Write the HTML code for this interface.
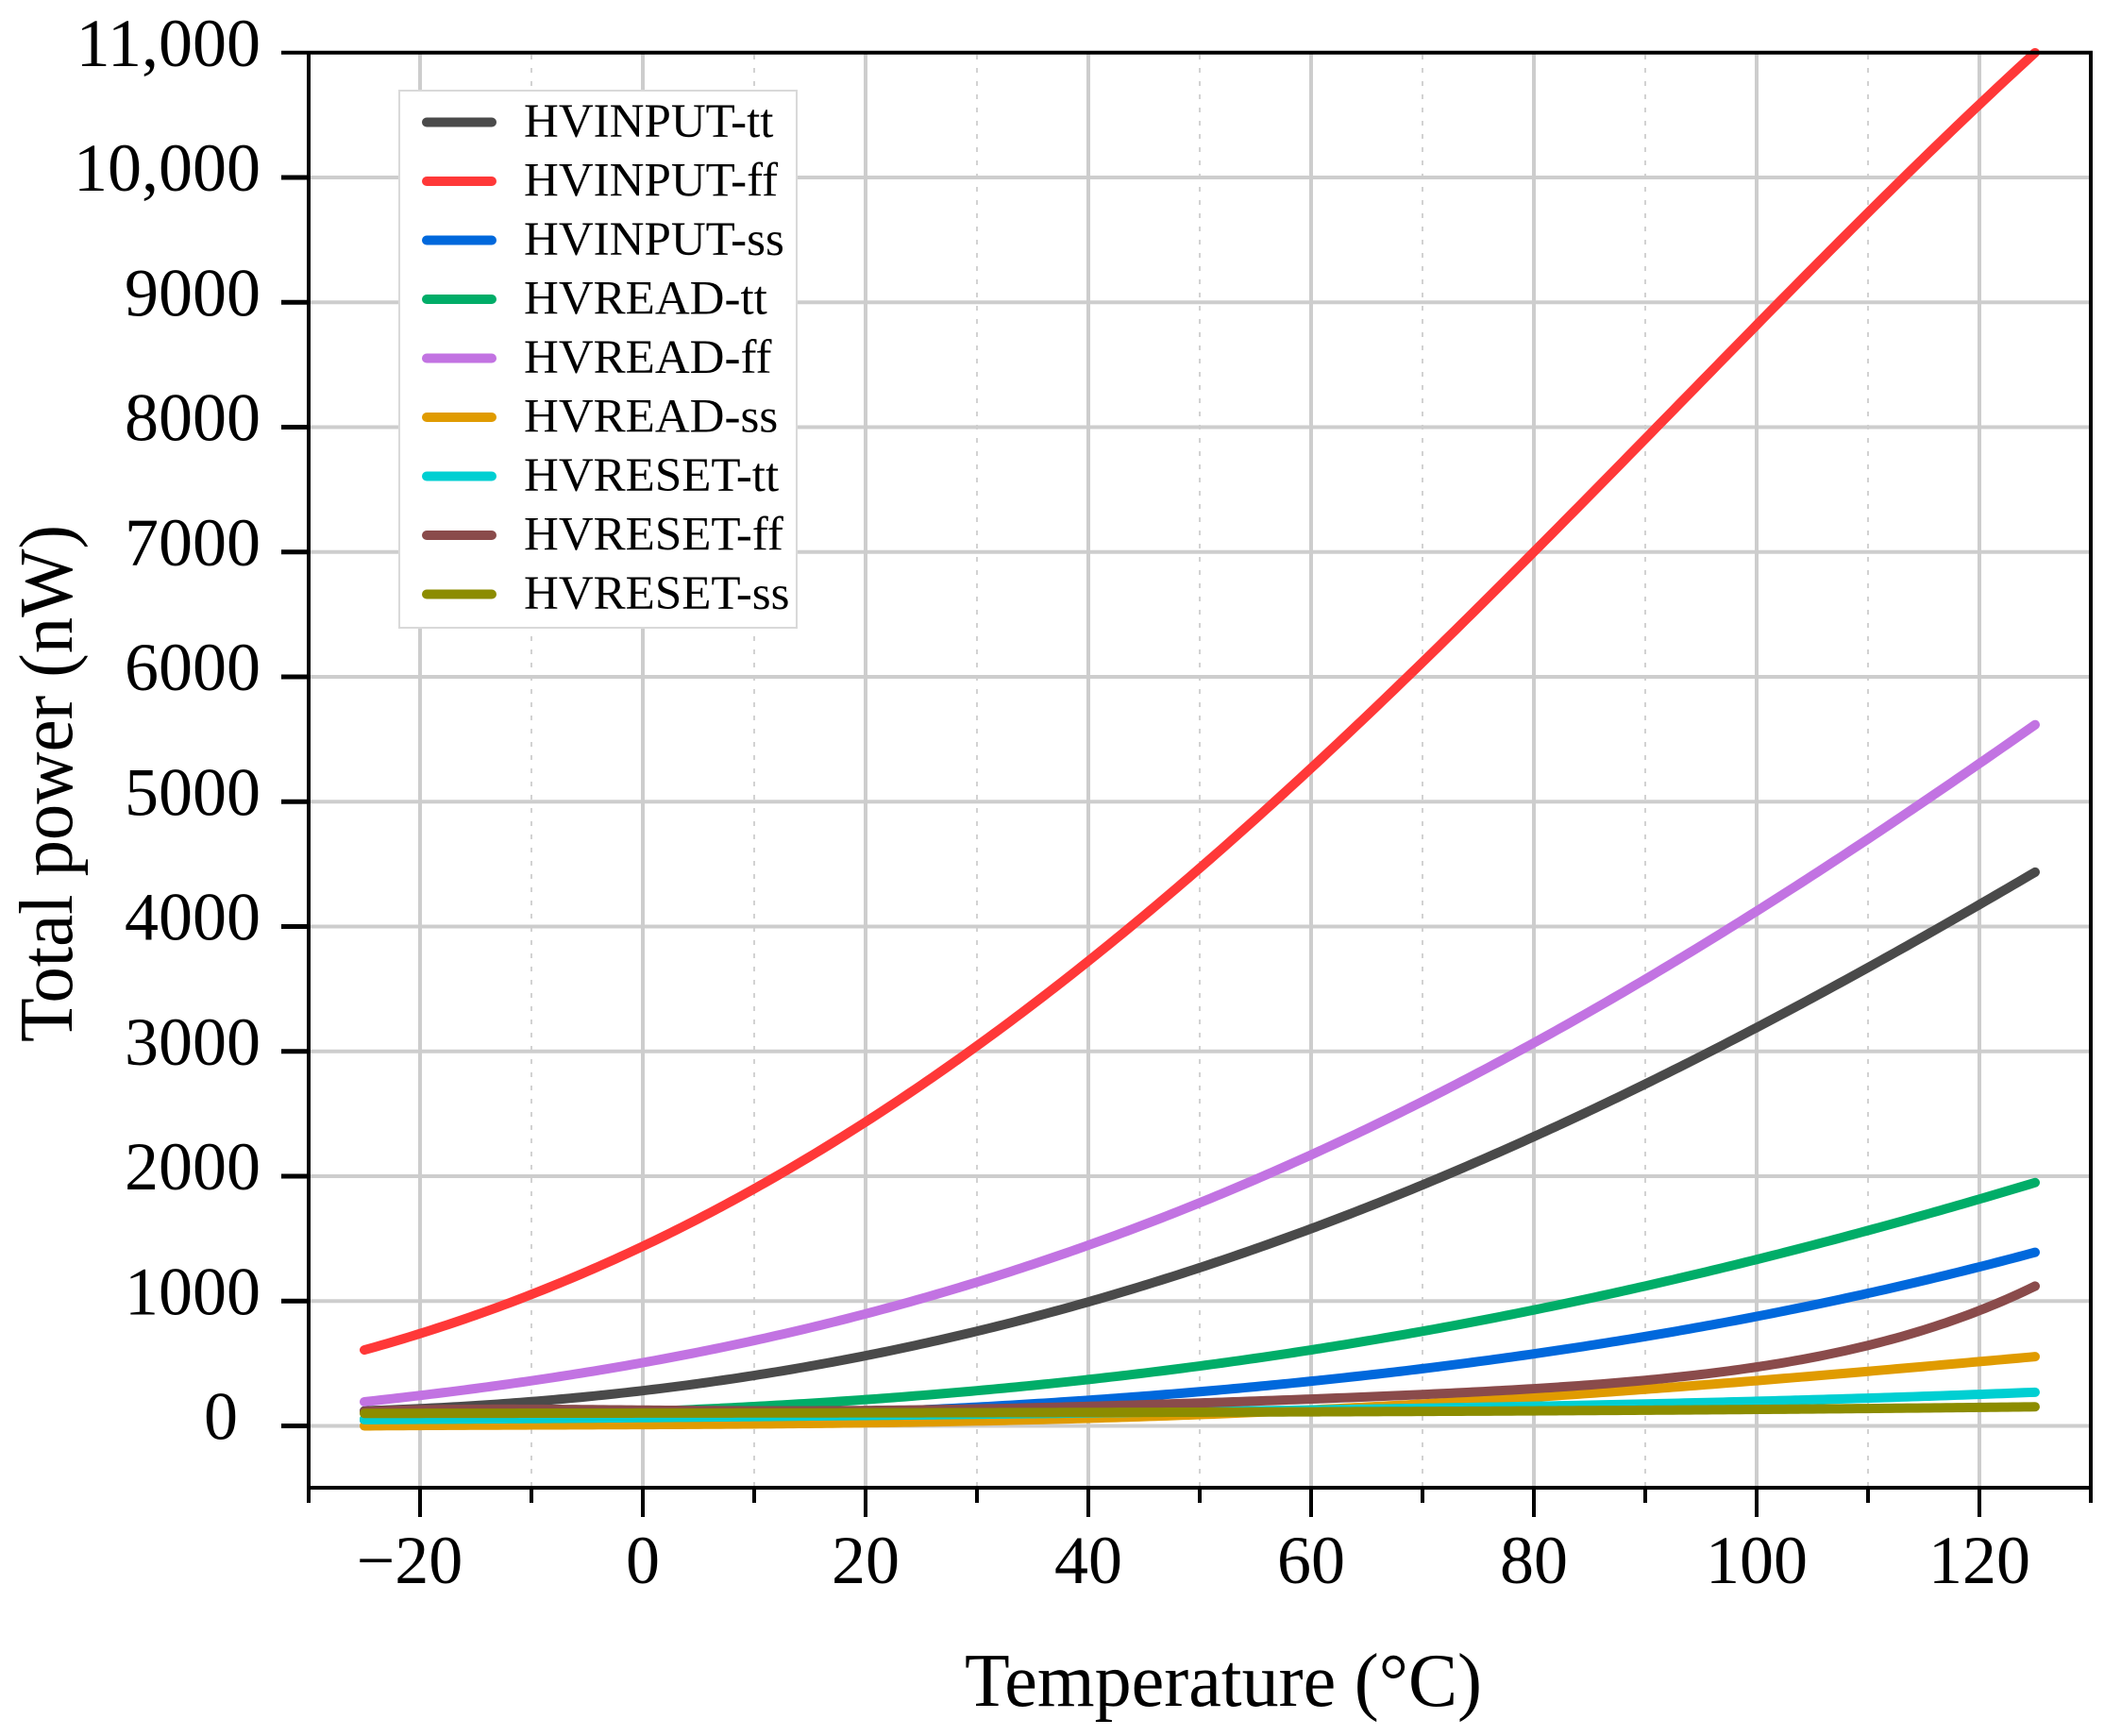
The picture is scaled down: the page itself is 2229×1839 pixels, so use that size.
<!DOCTYPE html>
<html>
<head>
<meta charset="utf-8">
<style>
  html, body { margin: 0; padding: 0; background: #ffffff; }
  svg { display: block; }
  text { font-family: "Liberation Serif", "Times New Roman", serif; fill: #000; }
</style>
</head>
<body>
<svg id="chart" width="2229" height="1839" viewBox="0 0 2229 1839" xmlns="http://www.w3.org/2000/svg">
  <rect x="0" y="0" width="2229" height="1839" fill="#ffffff"/>

  <!-- minor vertical gridlines (dashed) -->
  <g stroke="#d2d2d2" stroke-width="2" stroke-dasharray="5 9">
    <line x1="563" y1="58" x2="563" y2="1574"/>
    <line x1="799" y1="58" x2="799" y2="1574"/>
    <line x1="1035" y1="58" x2="1035" y2="1574"/>
    <line x1="1271" y1="58" x2="1271" y2="1574"/>
    <line x1="1507" y1="58" x2="1507" y2="1574"/>
    <line x1="1743" y1="58" x2="1743" y2="1574"/>
    <line x1="1979" y1="58" x2="1979" y2="1574"/>
  </g>

  <!-- major gridlines -->
  <g stroke="#cdcdcd" stroke-width="4">
    <line x1="445" y1="56" x2="445" y2="1576"/>
    <line x1="681" y1="56" x2="681" y2="1576"/>
    <line x1="917" y1="56" x2="917" y2="1576"/>
    <line x1="1153" y1="56" x2="1153" y2="1576"/>
    <line x1="1389" y1="56" x2="1389" y2="1576"/>
    <line x1="1625" y1="56" x2="1625" y2="1576"/>
    <line x1="1861" y1="56" x2="1861" y2="1576"/>
    <line x1="2097" y1="56" x2="2097" y2="1576"/>
    <line x1="327" y1="1510.5" x2="2215" y2="1510.5"/>
    <line x1="327" y1="1378.25" x2="2215" y2="1378.25"/>
    <line x1="327" y1="1246" x2="2215" y2="1246"/>
    <line x1="327" y1="1113.75" x2="2215" y2="1113.75"/>
    <line x1="327" y1="981.5" x2="2215" y2="981.5"/>
    <line x1="327" y1="849.25" x2="2215" y2="849.25"/>
    <line x1="327" y1="717" x2="2215" y2="717"/>
    <line x1="327" y1="584.75" x2="2215" y2="584.75"/>
    <line x1="327" y1="452.5" x2="2215" y2="452.5"/>
    <line x1="327" y1="320.25" x2="2215" y2="320.25"/>
    <line x1="327" y1="188" x2="2215" y2="188"/>
  </g>

  <!-- series -->
  <g id="series" fill="none" stroke-width="10" stroke-linecap="round" stroke-linejoin="round"></g>

  <!-- legend -->
  <rect x="423" y="96" width="421" height="569" fill="#ffffff" stroke="#d9d9d9" stroke-width="2"/>
  <g stroke-width="10" stroke-linecap="round">
    <line x1="452" y1="129.5" x2="521" y2="129.5" stroke="#4a4a4a"/>
    <line x1="452" y1="192" x2="521" y2="192" stroke="#ff3838"/>
    <line x1="452" y1="254.5" x2="521" y2="254.5" stroke="#0068dc"/>
    <line x1="452" y1="317" x2="521" y2="317" stroke="#00ad68"/>
    <line x1="452" y1="379.5" x2="521" y2="379.5" stroke="#c273e2"/>
    <line x1="452" y1="442" x2="521" y2="442" stroke="#e09b00"/>
    <line x1="452" y1="504.5" x2="521" y2="504.5" stroke="#00cfd2"/>
    <line x1="452" y1="567" x2="521" y2="567" stroke="#8a4b4b"/>
    <line x1="452" y1="629.5" x2="521" y2="629.5" stroke="#8c8c00"/>
  </g>
  <g font-size="51">
    <text x="555" y="145">HVINPUT-tt</text>
    <text x="555" y="207.5">HVINPUT-ff</text>
    <text x="555" y="270">HVINPUT-ss</text>
    <text x="555" y="332.5">HVREAD-tt</text>
    <text x="555" y="395">HVREAD-ff</text>
    <text x="555" y="457.5">HVREAD-ss</text>
    <text x="555" y="520">HVRESET-tt</text>
    <text x="555" y="582.5">HVRESET-ff</text>
    <text x="555" y="645">HVRESET-ss</text>
  </g>

  <!-- axes -->
  <g stroke="#000" stroke-width="4" fill="none">
    <line x1="298" y1="55.75" x2="2217" y2="55.75"/>
    <line x1="327" y1="54" x2="327" y2="1592"/>
    <line x1="2215" y1="54" x2="2215" y2="1592"/>
    <line x1="325" y1="1576" x2="2217" y2="1576"/>
  </g>
  <g stroke="#000" stroke-width="5">
    <line x1="298" y1="1510.5" x2="327" y2="1510.5"/>
    <line x1="298" y1="1378.25" x2="327" y2="1378.25"/>
    <line x1="298" y1="1246" x2="327" y2="1246"/>
    <line x1="298" y1="1113.75" x2="327" y2="1113.75"/>
    <line x1="298" y1="981.5" x2="327" y2="981.5"/>
    <line x1="298" y1="849.25" x2="327" y2="849.25"/>
    <line x1="298" y1="717" x2="327" y2="717"/>
    <line x1="298" y1="584.75" x2="327" y2="584.75"/>
    <line x1="298" y1="452.5" x2="327" y2="452.5"/>
    <line x1="298" y1="320.25" x2="327" y2="320.25"/>
    <line x1="298" y1="188" x2="327" y2="188"/>
  </g>
  <g stroke="#000" stroke-width="4">
    <line x1="445" y1="1576" x2="445" y2="1607"/>
    <line x1="681" y1="1576" x2="681" y2="1607"/>
    <line x1="917" y1="1576" x2="917" y2="1607"/>
    <line x1="1153" y1="1576" x2="1153" y2="1607"/>
    <line x1="1389" y1="1576" x2="1389" y2="1607"/>
    <line x1="1625" y1="1576" x2="1625" y2="1607"/>
    <line x1="1861" y1="1576" x2="1861" y2="1607"/>
    <line x1="2097" y1="1576" x2="2097" y2="1607"/>
    <line x1="563" y1="1576" x2="563" y2="1592"/>
    <line x1="799" y1="1576" x2="799" y2="1592"/>
    <line x1="1035" y1="1576" x2="1035" y2="1592"/>
    <line x1="1271" y1="1576" x2="1271" y2="1592"/>
    <line x1="1507" y1="1576" x2="1507" y2="1592"/>
    <line x1="1743" y1="1576" x2="1743" y2="1592"/>
    <line x1="1979" y1="1576" x2="1979" y2="1592"/>
  </g>

  <!-- y tick labels -->
  <g font-size="72" text-anchor="end">
    <text x="252" y="1524.5">0</text>
    <text x="276" y="1392.25">1000</text>
    <text x="276" y="1260">2000</text>
    <text x="276" y="1127.75">3000</text>
    <text x="276" y="995.5">4000</text>
    <text x="276" y="863.25">5000</text>
    <text x="276" y="731">6000</text>
    <text x="276" y="598.75">7000</text>
    <text x="276" y="466.5">8000</text>
    <text x="276" y="334.25">9000</text>
    <text x="276" y="202">10,000</text>
    <text x="276" y="69.75">11,000</text>
  </g>

  <!-- x tick labels -->
  <g font-size="72" text-anchor="middle">
    <text x="434" y="1677">−20</text>
    <text x="681" y="1677">0</text>
    <text x="917" y="1677">20</text>
    <text x="1153" y="1677">40</text>
    <text x="1389" y="1677">60</text>
    <text x="1625" y="1677">80</text>
    <text x="1861" y="1677">100</text>
    <text x="2097" y="1677">120</text>
  </g>

  <!-- axis titles -->
  <text x="1022" y="1807" font-size="80" textLength="548" lengthAdjust="spacingAndGlyphs">Temperature (°C)</text>
  <text transform="translate(76,830) rotate(-90)" x="-274" y="0" font-size="80" textLength="548" lengthAdjust="spacingAndGlyphs">Total power (nW)</text>
</svg>

<script>
(function(){
  function X(t){return 681 + t*11.8;}
  function Y(v){return 1510.5 - v*0.13225;}
  var series = [
    ["#4a4a4a", 4, [[-25,120],[-20,150],[-10,205],[0,281],[10,394],[20,555],[30,760],[40,999],[50,1270],[60,1580],[70,1928],[80,2330],[90,2730],[100,3178],[110,3670],[120,4202],[125,4435]]],
    ["#ff3838", 4, [[-25,609],[-20,722],[-10,1025],[0,1440],[10,1932],[20,2436],[30,3041],[43.5,4000],[48.2,4325],[57.4,5000],[68.8,6000],[79.7,7000],[90.65,8000],[101.9,9000],[113.8,10000],[125,11000]]],
    ["#0068dc", 4, [[-25,45],[0,60],[20,100],[30,150],[40,210],[50,280],[60,358],[70,455],[80,575],[90,715],[100,875],[110,1065],[120,1280],[125,1390]]],
    ["#00ad68", 4, [[-25,55],[-10,80],[0,105],[10,155],[20,210],[30,286],[40,382],[50,490],[60,608],[70,755],[80,905],[90,1108],[100,1345],[110,1580],[120,1837],[125,1948]]],
    ["#c273e2", 4, [[-25,193],[-20,243],[-10,369],[0,520],[10,684],[20,886],[30,1138],[40,1440],[50,1790],[60,2185],[70,2610],[80,3080],[90,3570],[100,4085],[110,4720],[120,5320],[125,5616]]],
    ["#e09b00", 4, [[-25,0],[0,12],[20,28],[35,45],[50,85],[60,128],[70,178],[80,235],[90,297],[100,362],[110,432],[120,505],[125,555]]],
    ["#00cfd2", 4, [[-25,50],[0,65],[20,85],[40,105],[60,125],[70,140],[80,158],[90,178],[100,200],[110,222],[120,245],[125,270]]],
    ["#8a4b4b", 5, [[-25,115],[0,120],[20,133],[40,158],[60,205],[80,292],[90,375],[100,487],[110,643],[115,750],[120,920],[125,1120]]],
    ["#8c8c00", 3, [[-25,100],[0,103],[40,108],[60,112],[80,120],[100,133],[120,148],[125,153]]]
  ];
  function solve(A,b){
    var n=b.length,i,j,k;
    for(i=0;i<n;i++){
      var p=i;
      for(j=i+1;j<n;j++) if(Math.abs(A[j][i])>Math.abs(A[p][i])) p=j;
      var t=A[i];A[i]=A[p];A[p]=t; t=b[i];b[i]=b[p];b[p]=t;
      for(j=i+1;j<n;j++){
        var f=A[j][i]/A[i][i];
        for(k=i;k<n;k++) A[j][k]-=f*A[i][k];
        b[j]-=f*b[i];
      }
    }
    var x=new Array(n);
    for(i=n-1;i>=0;i--){
      var s=b[i];
      for(k=i+1;k<n;k++) s-=A[i][k]*x[k];
      x[i]=s/A[i][i];
    }
    return x;
  }
  function fit(pts,deg){
    var m=deg+1,A=[],b=[],i,j,k;
    for(i=0;i<m;i++){A.push(new Array(m).fill(0));b.push(0);}
    pts.forEach(function(p,idx){
      var u=(p[0]-50)/75, w=(idx===0||idx===pts.length-1)?25:1;
      var pw=[];for(j=0;j<2*m;j++) pw.push(Math.pow(u,j));
      for(j=0;j<m;j++){ for(k=0;k<m;k++) A[j][k]+=w*pw[j+k]; b[j]+=w*pw[j]*p[1]; }
    });
    var c=solve(A,b);
    return function(t){var u=(t-50)/75,s=0;for(var j=0;j<m;j++) s+=c[j]*Math.pow(u,j);return s;};
  }
  var g=document.getElementById("series");
  var NS="http://www.w3.org/2000/svg";
  series.forEach(function(sr){
    var f=fit(sr[2],sr[1]);
    var d="";
    for(var t=-25;t<=125.0001;t+=0.5){
      d+=(d?" L":"M")+X(t).toFixed(2)+","+Y(f(t)).toFixed(2);
    }
    var el=document.createElementNS(NS,"path");
    el.setAttribute("d", d);
    el.setAttribute("stroke", sr[0]);
    g.appendChild(el);
  });
})();
</script>
</body>
</html>
